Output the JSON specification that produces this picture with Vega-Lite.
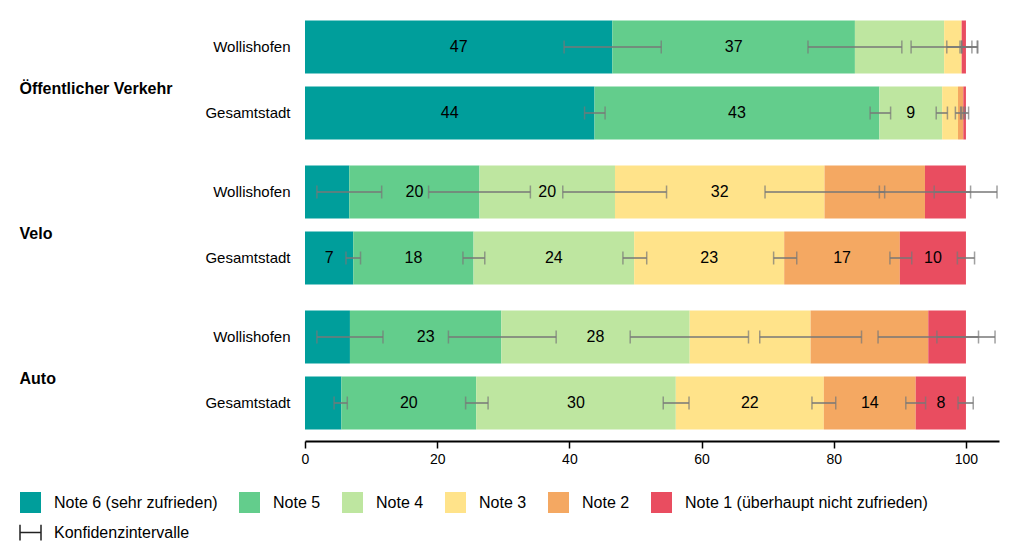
{
  "$schema": "https://vega.github.io/schema/vega-lite/v6.json",
  "padding": {"left": 19, "top": 14, "right": 5, "bottom": 0},
  "config": {"font": "Liberation Sans", "view": {"stroke": null}},
  "data": {"values": [
    {"g": "Öffentlicher Verkehr", "o": "Wollishofen", "n": "Note 6 (sehr zufrieden)", "k": 1, "v": 46.5, "lo": 39.2, "hi": 53.9, "t": "47"},
    {"g": "Öffentlicher Verkehr", "o": "Wollishofen", "n": "Note 5", "k": 2, "v": 36.7, "lo": 76.1, "hi": 90.3, "t": "37"},
    {"g": "Öffentlicher Verkehr", "o": "Wollishofen", "n": "Note 4", "k": 3, "v": 13.5, "lo": 91.7, "hi": 101.8, "t": ""},
    {"g": "Öffentlicher Verkehr", "o": "Wollishofen", "n": "Note 3", "k": 4, "v": 2.65, "lo": 97.1, "hi": 101.7, "t": ""},
    {"g": "Öffentlicher Verkehr", "o": "Wollishofen", "n": "Note 2", "k": 5, "v": 0, "lo": 99.35, "hi": 99.35, "t": ""},
    {"g": "Öffentlicher Verkehr", "o": "Wollishofen", "n": "Note 1 (überhaupt nicht zufrieden)", "k": 6, "v": 0.65, "lo": 99.1, "hi": 100.9, "t": ""},
    {"g": "Öffentlicher Verkehr", "o": "Gesamtstadt", "n": "Note 6 (sehr zufrieden)", "k": 1, "v": 43.8, "lo": 42.3, "hi": 45.4, "t": "44"},
    {"g": "Öffentlicher Verkehr", "o": "Gesamtstadt", "n": "Note 5", "k": 2, "v": 43.1, "lo": 85.5, "hi": 88.6, "t": "43"},
    {"g": "Öffentlicher Verkehr", "o": "Gesamtstadt", "n": "Note 4", "k": 3, "v": 9.5, "lo": 95.5, "hi": 97.2, "t": "9"},
    {"g": "Öffentlicher Verkehr", "o": "Gesamtstadt", "n": "Note 3", "k": 4, "v": 2.4, "lo": 98.4, "hi": 99.2, "t": ""},
    {"g": "Öffentlicher Verkehr", "o": "Gesamtstadt", "n": "Note 2", "k": 5, "v": 0.8, "lo": 99.3, "hi": 99.9, "t": ""},
    {"g": "Öffentlicher Verkehr", "o": "Gesamtstadt", "n": "Note 1 (überhaupt nicht zufrieden)", "k": 6, "v": 0.4, "lo": 99.6, "hi": 100.4, "t": ""},
    {"g": "Velo", "o": "Wollishofen", "n": "Note 6 (sehr zufrieden)", "k": 1, "v": 6.7, "lo": 1.8, "hi": 11.6, "t": ""},
    {"g": "Velo", "o": "Wollishofen", "n": "Note 5", "k": 2, "v": 19.7, "lo": 18.7, "hi": 34.1, "t": "20"},
    {"g": "Velo", "o": "Wollishofen", "n": "Note 4", "k": 3, "v": 20.5, "lo": 39.0, "hi": 54.7, "t": "20"},
    {"g": "Velo", "o": "Wollishofen", "n": "Note 3", "k": 4, "v": 31.7, "lo": 69.6, "hi": 87.7, "t": "32"},
    {"g": "Velo", "o": "Wollishofen", "n": "Note 2", "k": 5, "v": 15.2, "lo": 86.9, "hi": 100.7, "t": ""},
    {"g": "Velo", "o": "Wollishofen", "n": "Note 1 (überhaupt nicht zufrieden)", "k": 6, "v": 6.2, "lo": 95.2, "hi": 104.7, "t": ""},
    {"g": "Velo", "o": "Gesamtstadt", "n": "Note 6 (sehr zufrieden)", "k": 1, "v": 7.3, "lo": 6.2, "hi": 8.4, "t": "7"},
    {"g": "Velo", "o": "Gesamtstadt", "n": "Note 5", "k": 2, "v": 18.2, "lo": 23.9, "hi": 27.2, "t": "18"},
    {"g": "Velo", "o": "Gesamtstadt", "n": "Note 4", "k": 3, "v": 24.3, "lo": 48.1, "hi": 51.7, "t": "24"},
    {"g": "Velo", "o": "Gesamtstadt", "n": "Note 3", "k": 4, "v": 22.7, "lo": 70.9, "hi": 74.4, "t": "23"},
    {"g": "Velo", "o": "Gesamtstadt", "n": "Note 2", "k": 5, "v": 17.5, "lo": 88.5, "hi": 91.8, "t": "17"},
    {"g": "Velo", "o": "Gesamtstadt", "n": "Note 1 (überhaupt nicht zufrieden)", "k": 6, "v": 10.0, "lo": 98.7, "hi": 101.3, "t": "10"},
    {"g": "Auto", "o": "Wollishofen", "n": "Note 6 (sehr zufrieden)", "k": 1, "v": 6.8, "lo": 1.8, "hi": 11.8, "t": ""},
    {"g": "Auto", "o": "Wollishofen", "n": "Note 5", "k": 2, "v": 22.9, "lo": 21.7, "hi": 38.0, "t": "23"},
    {"g": "Auto", "o": "Wollishofen", "n": "Note 4", "k": 3, "v": 28.5, "lo": 49.2, "hi": 67.1, "t": "28"},
    {"g": "Auto", "o": "Wollishofen", "n": "Note 3", "k": 4, "v": 18.3, "lo": 68.8, "hi": 84.2, "t": ""},
    {"g": "Auto", "o": "Wollishofen", "n": "Note 2", "k": 5, "v": 17.8, "lo": 86.7, "hi": 101.9, "t": ""},
    {"g": "Auto", "o": "Wollishofen", "n": "Note 1 (überhaupt nicht zufrieden)", "k": 6, "v": 5.7, "lo": 95.6, "hi": 104.4, "t": ""},
    {"g": "Auto", "o": "Gesamtstadt", "n": "Note 6 (sehr zufrieden)", "k": 1, "v": 5.5, "lo": 4.4, "hi": 6.4, "t": ""},
    {"g": "Auto", "o": "Gesamtstadt", "n": "Note 5", "k": 2, "v": 20.4, "lo": 24.3, "hi": 27.7, "t": "20"},
    {"g": "Auto", "o": "Gesamtstadt", "n": "Note 4", "k": 3, "v": 30.2, "lo": 54.2, "hi": 58.1, "t": "30"},
    {"g": "Auto", "o": "Gesamtstadt", "n": "Note 3", "k": 4, "v": 22.4, "lo": 76.7, "hi": 80.3, "t": "22"},
    {"g": "Auto", "o": "Gesamtstadt", "n": "Note 2", "k": 5, "v": 13.9, "lo": 90.9, "hi": 93.9, "t": "14"},
    {"g": "Auto", "o": "Gesamtstadt", "n": "Note 1 (überhaupt nicht zufrieden)", "k": 6, "v": 7.6, "lo": 98.8, "hi": 101.1, "t": "8"}
  ]},
  "transform": [
    {"stack": "v", "groupby": ["g", "o"], "sort": [{"field": "k", "order": "ascending"}], "as": ["x0", "x1"]},
    {"calculate": "(datum.x0 + datum.x1) / 2", "as": "xm"}
  ],
  "facet": {
    "row": {
      "field": "g", "type": "nominal",
      "sort": ["Öffentlicher Verkehr", "Velo", "Auto"],
      "title": null,
      "header": {"labels": false, "title": null}
    }
  },
  "spacing": {"row": 13},
  "resolve": {"scale": {"y": "independent"}},
  "spec": {
    "width": 694,
    "height": 132,
    "resolve": {"scale": {"y": "independent"}},
    "layer": [
      {
        "mark": {"type": "text", "text": ""},
        "encoding": {
          "y": {"field": "g", "type": "nominal",
            "scale": {"paddingInner": 0, "paddingOuter": 0},
            "axis": {"orient": "left", "title": null, "ticks": false, "domain": false, "labelAlign": "left", "labelBaseline": "top", "labelFontWeight": "bold", "labelFontSize": 16, "labelColor": "black", "labelPadding": 286, "labelLimit": 300}},
          "text": {"value": ""}
        }
      },
      {
        "layer": [
          {
            "mark": {"type": "bar"},
            "encoding": {
              "x": {"field": "x0", "type": "quantitative", "scale": {"domain": [0, 105], "nice": false},
                "axis": {"values": [0, 20, 40, 60, 80, 100], "title": null, "grid": false, "tickSize": 7, "tickColor": "black", "tickWidth": 1.5, "domainColor": "black", "domainWidth": 2, "labelFontSize": 14, "labelColor": "black", "labelPadding": 4, "offset": 5, "labelFlush": false}},
              "x2": {"field": "x1"},
              "color": {"field": "n", "type": "nominal",
                "scale": {
                  "domain": ["Note 6 (sehr zufrieden)", "Note 5", "Note 4", "Note 3", "Note 2", "Note 1 (überhaupt nicht zufrieden)", "Konfidenzintervalle"],
                  "range": ["#009E9B", "#63CD8C", "#BEE6A0", "#FFE38A", "#F4A862", "#E94D60", "transparent"]
                },
                "legend": {
                  "orient": "none", "legendX": -286, "legendY": 477, "direction": "horizontal", "columns": 6, "title": null,
                  "symbolSize": 441, "labelFontSize": 16, "labelColor": "black", "labelOffset": 12, "labelLimit": 400,
                  "columnPadding": 18, "rowPadding": 5,
                  "encode": {"symbols": {"update": {
                    "shape": {"signal": "datum.value === 'Konfidenzintervalle' ? 'M-1,-0.75L-1,0.75M-1,0L1,0M1,-0.75L1,0.75' : 'square'"},
                    "stroke": {"signal": "datum.value === 'Konfidenzintervalle' ? '#222' : 'transparent'"},
                    "strokeWidth": {"value": 1.5}
                  }}}
                }
              }
            }
          },
          {
            "mark": {"type": "rule", "color": "#777777", "strokeWidth": 1.5},
            "encoding": {"x": {"field": "lo", "type": "quantitative"}, "x2": {"field": "hi"}}
          },
          {
            "mark": {"type": "tick", "color": "#777777", "thickness": 1.5, "size": 13, "orient": "vertical"},
            "encoding": {"x": {"field": "lo", "type": "quantitative"}}
          },
          {
            "mark": {"type": "tick", "color": "#777777", "thickness": 1.5, "size": 13, "orient": "vertical"},
            "encoding": {"x": {"field": "hi", "type": "quantitative"}}
          },
          {
            "mark": {"type": "text", "fontSize": 16, "color": "black"},
            "encoding": {"x": {"field": "xm", "type": "quantitative"}, "text": {"field": "t"}}
          }
        ],
        "encoding": {
          "y": {"field": "o", "type": "nominal", "sort": ["Wollishofen", "Gesamtstadt"],
            "scale": {"paddingInner": 0.197, "paddingOuter": 0.0985},
            "axis": {"orient": "left", "title": null, "ticks": false, "domain": false, "labelFontSize": 15, "labelPadding": 15, "labelColor": "black"}}
        }
      }
    ]
  }
}
